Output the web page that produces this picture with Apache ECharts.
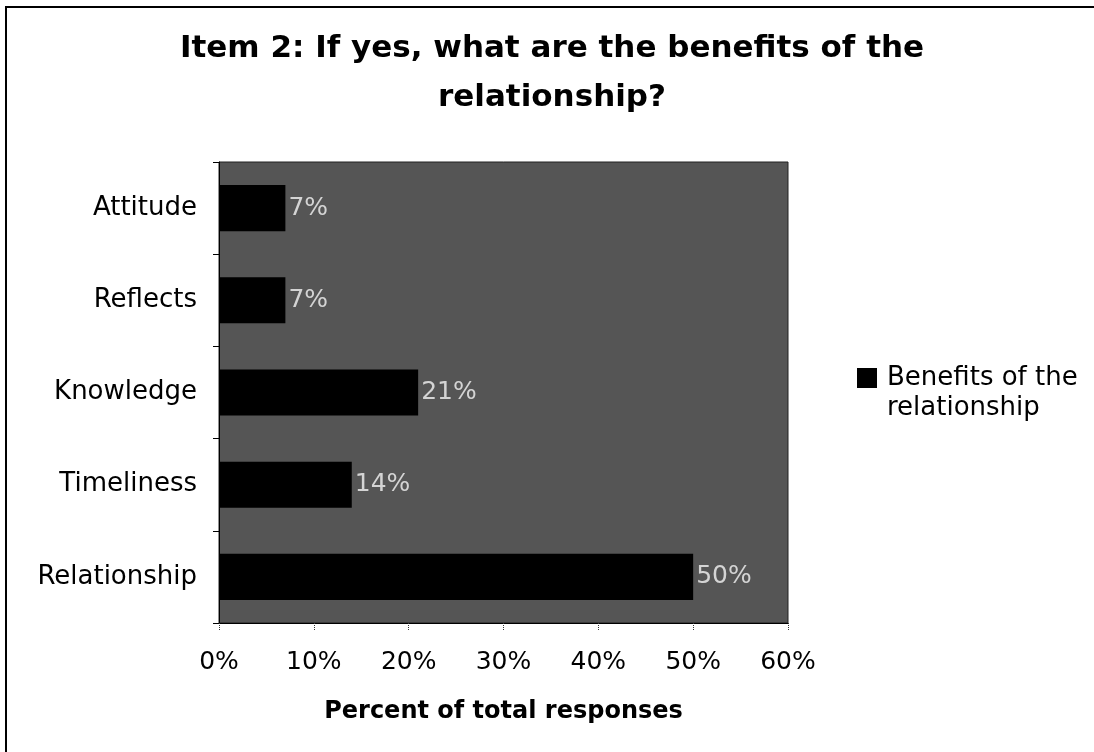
<!DOCTYPE html>
<html>
<head>
<meta charset="utf-8">
<script src="https://cdn.jsdelivr.net/npm/echarts@6/dist/echarts.min.js"></script>
<style>
  html, body { margin: 0; padding: 0; background: #fff; }
  #chart { width: 1094px; height: 752px; }
</style>
</head>
<body>
<div id="chart"></div>
<script>
// Survey item 2: share of responses naming each benefit
const categories = ['Attitude', 'Reflects', 'Knowledge', 'Timeliness', 'Relationship'];
const benefitShares = [7, 7, 21, 14, 50];
const seriesName = 'Benefits of the relationship';
const axisTicks = { min: 0, max: 60, step: 10 };

const FONT = '"DejaVu Sans", Verdana, sans-serif';

const chart = echarts.init(document.getElementById('chart'), null, { renderer: 'canvas' });

chart.setOption({
  backgroundColor: '#ffffff',
  animation: false,
  textStyle: { fontFamily: FONT, color: '#000' },
  title: {
    text: 'Item 2: If yes, what are the benefits of the\nrelationship?',
    left: 547,
    top: 19,
    textAlign: 'center',
    textStyle: {
      fontFamily: FONT,
      fontWeight: 'bold',
      fontSize: 31,
      lineHeight: 49,
      color: '#000'
    }
  },
  legend: {
    left: 857,
    top: 333,
    padding: 0,
    orient: 'vertical',
    itemWidth: 20,
    itemHeight: 20,
    icon: 'rect',
    data: [seriesName],
    // leading blank line keeps the first text line level with the swatch
    formatter: () => '{t| }\n{t|Benefits of the}\n{t|relationship}',
    textStyle: {
      fontFamily: FONT,
      fontSize: 26,
      lineHeight: 30,
      color: '#000',
      rich: {
        t: { fontFamily: FONT, fontSize: 26, lineHeight: 30, color: '#000', padding: [0, 0, 0, 5] }
      }
    }
  },
  grid: {
    left: 219,
    right: 306,
    top: 162,
    bottom: 129,
    show: true,
    backgroundColor: '#555555',
    borderColor: '#222',
    borderWidth: 1
  },
  xAxis: {
    type: 'value',
    min: axisTicks.min,
    max: axisTicks.max,
    interval: axisTicks.step,
    name: 'Percent of total responses',
    nameLocation: 'middle',
    nameGap: 77,
    nameTextStyle: { fontFamily: FONT, fontWeight: 'bold', fontSize: 24, color: '#000' },
    axisLine: { show: true, lineStyle: { color: '#000', width: 1 } },
    axisTick: { show: true, length: 7, lineStyle: { color: '#333', type: 'dotted' } },
    axisLabel: {
      margin: 27,
      fontFamily: FONT,
      fontSize: 25,
      color: '#000',
      formatter: '{value}%'
    },
    splitLine: { show: false }
  },
  yAxis: {
    type: 'category',
    data: categories,
    inverse: true,
    axisLine: { show: true, lineStyle: { color: '#000', width: 1 } },
    axisTick: { show: true, length: 6, lineStyle: { color: '#000' } },
    axisLabel: {
      margin: 22,
      fontFamily: FONT,
      fontSize: 26,
      color: '#000'
    },
    splitLine: { show: false }
  },
  series: [{
    name: seriesName,
    type: 'bar',
    data: benefitShares,
    barWidth: '50%',
    itemStyle: { color: '#000000' },
    label: {
      show: true,
      position: 'right',
      distance: 3,
      formatter: p => p.value + '%',
      fontFamily: FONT,
      fontSize: 25,
      color: '#d4d4d4'
    }
  }],
  graphic: [{
    type: 'rect',
    silent: true,
    shape: { x: 6, y: 7, width: 1200, height: 900 },
    style: { fill: 'none', stroke: '#000', lineWidth: 2 }
  }]
});
</script>
</body>
</html>
